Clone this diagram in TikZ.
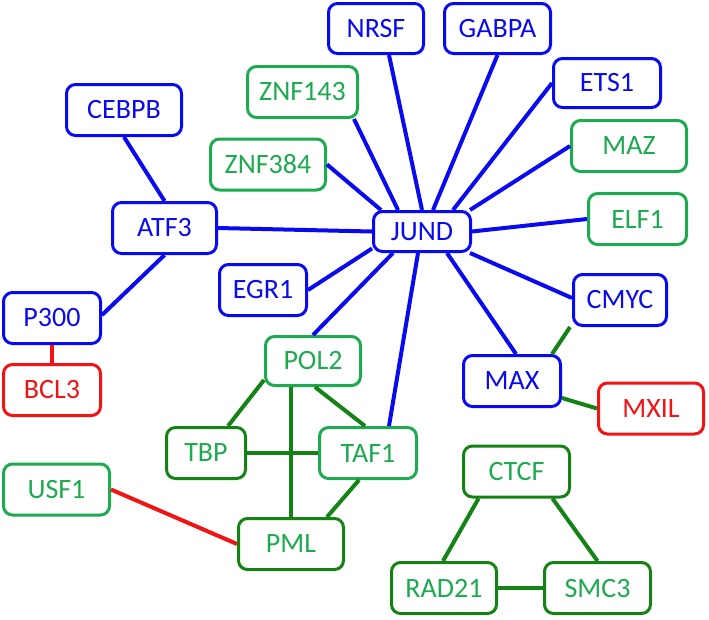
\documentclass[tikz,border=0pt]{standalone}
\usepackage{fontspec}
\setmainfont{Carlito}
\definecolor{nblue}{RGB}{10,10,240}
\definecolor{nred}{RGB}{240,20,20}
\definecolor{lgreen}{RGB}{30,170,80}
\definecolor{dgreen}{RGB}{20,130,20}
\tikzset{
  box/.style={rectangle, rounded corners=9pt, line width=3pt, fill=white, inner sep=0pt,
    minimum height=51pt, font=\fontsize{28}{30}\selectfont},
  bbox/.style={box, draw=nblue, text=nblue},
  rbox/.style={box, draw=nred, text=nred},
  gbox/.style={box, draw=lgreen, text=lgreen},
  dbox/.style={box, draw=dgreen, text=lgreen},
  bedge/.style={draw=nblue, line width=4pt},
  gedge/.style={draw=dgreen, line width=4pt},
  redge/.style={draw=nred, line width=4pt}
}
\begin{document}
\begin{tikzpicture}[x=1pt,y=-1pt]
\useasboundingbox (0,0) rectangle (709,619);
% nodes
\node[bbox, minimum width=95pt, minimum height=50pt] (NRSF) at (376,28.5) {NRSF};
\node[bbox, minimum width=106pt, minimum height=50pt] (GABPA) at (497.5,28.5) {GABPA};
\node[bbox, minimum width=107pt, minimum height=49pt] (ETS1) at (607,83) {ETS1};
\node[gbox, minimum width=115pt] (MAZ) at (629,146) {MAZ};
\node[gbox, minimum width=98pt] (ELF1) at (637.5,219) {ELF1};
\node[bbox, minimum width=97pt, minimum height=40pt] (JUND) at (422,231.5) {JUND};
\node[bbox, minimum width=93pt] (CMYC) at (620,300) {CMYC};
\node[bbox, minimum width=115pt] (CEBPB) at (124,110) {CEBPB};
\node[gbox, minimum width=110pt] (ZNF143) at (302.5,92) {ZNF143};
\node[gbox, minimum width=115pt] (ZNF384) at (268,164.5) {ZNF384};
\node[bbox, minimum width=104pt] (ATF3) at (164.5,228) {ATF3};
\node[bbox, minimum width=87pt] (EGR1) at (263,290) {EGR1};
\node[bbox, minimum width=97pt] (P300) at (52,318) {P300};
\node[rbox, minimum width=97pt] (BCL3) at (52,390) {BCL3};
\node[gbox, minimum width=95pt, minimum height=49pt] (POL2) at (313,361) {POL2};
\node[dbox, minimum width=79pt] (TBP) at (206,453) {TBP};
\node[gbox, minimum width=97pt] (TAF1) at (368,453) {TAF1};
\node[gbox, minimum width=106pt] (USF1) at (56.5,489.5) {USF1};
\node[dbox, minimum width=105pt] (PML) at (291,544) {PML};
\node[bbox, minimum width=97pt] (MAX) at (512,381) {MAX};
\node[rbox, minimum width=105pt] (MXIL) at (651,408.5) {MXIL};
\node[dbox, minimum width=106pt] (CTCF) at (516.5,471.5) {CTCF};
\node[dbox, minimum width=105pt] (RAD21) at (444,588) {RAD21};
\node[dbox, minimum width=106pt] (SMC3) at (597.5,588) {SMC3};
% blue edges
\draw[bedge] (ZNF384.east) -- ([xshift=9pt]JUND.north west);
\draw[bedge] ([xshift=-5pt]ZNF143.south east) -- ([xshift=-24pt]JUND.north);
\draw[bedge] ([xshift=13pt]NRSF.south) -- (JUND.north);
\draw[bedge] (GABPA.south) -- ([xshift=11pt]JUND.north);
\draw[bedge] (ETS1.west) -- ([xshift=31pt]JUND.north);
\draw[bedge] (MAZ.west) -- ([xshift=-2pt]JUND.north east);
\draw[bedge] (ELF1.west) -- (JUND.east);
\draw[bedge] ([yshift=2pt]CMYC.west) -- ([xshift=-2pt]JUND.south east);
\draw[bedge] ([xshift=4pt]MAX.north) -- ([xshift=25pt]JUND.south);
\draw[bedge] ([xshift=21pt]TAF1.north) -- ([xshift=-4pt]JUND.south);
\draw[bedge] (POL2.north) -- ([xshift=-29pt]JUND.south);
\draw[bedge] (EGR1.east) -- ([yshift=4.5pt]JUND.south west);
\draw[bedge] (ATF3.east) -- (JUND.west);
\draw[bedge] (CEBPB.south) -- (ATF3.north);
\draw[bedge] (ATF3.south) -- ([yshift=3pt]P300.east);
% red edges
\draw[redge] (P300.south) -- (BCL3.north);
\draw[redge] (USF1.east) -- (PML.west);
% green edges
\draw[gedge] ([yshift=-19pt]POL2.west) -- ([xshift=22pt]TBP.north);
\draw[gedge] (PML.north |- POL2.south) -- (PML.north);
\draw[gedge] ([xshift=2pt]POL2.south) -- ([xshift=-3pt]TAF1.north);
\draw[gedge] (TBP.east) -- (TAF1.west);
\draw[gedge] ([xshift=-9pt]TAF1.south) -- ([xshift=36pt]PML.north);
\draw[gedge] ([xshift=-50pt]CMYC.south) -- ([xshift=40pt]MAX.north);
\draw[gedge] ([yshift=-17pt]MAX.east) -- (MXIL.west);
\draw[gedge] ([xshift=-38pt]CTCF.south) -- ([xshift=-1pt]RAD21.north);
\draw[gedge] ([xshift=36pt]CTCF.south) -- (SMC3.north);
\draw[gedge] (RAD21.east) -- (SMC3.west);
\end{tikzpicture}
\end{document}
